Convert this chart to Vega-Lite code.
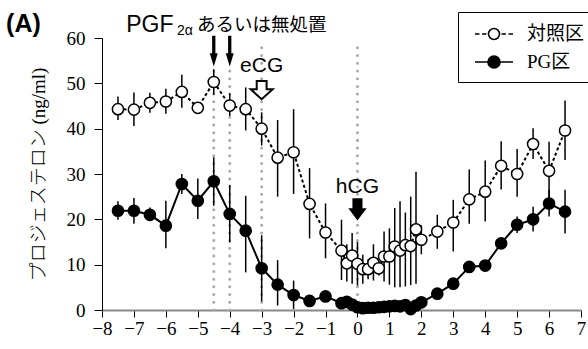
{
  "$schema": "https://vega.github.io/schema/vega-lite/v6.json",
  "width": 479,
  "height": 272,
  "autosize": "none",
  "padding": {"left": 102, "top": 38, "right": 7, "bottom": 39},
  "background": "white",
  "config": {
    "view": {"stroke": null},
    "axis": {
      "grid": false,
      "labelFont": "Liberation Serif",
      "labelFontSize": 19,
      "labelColor": "black",
      "tickColor": "black",
      "domainColor": "black",
      "titleFont": "Liberation Serif, Noto Sans CJK JP",
      "titleFontSize": 19,
      "titleFontWeight": 300,
      "titleColor": "black"
    },
    "axisX": {"domainColor": "#888888", "domainWidth": 2, "tickSize": 7, "labelPadding": 2, "tickCount": 15, "labelFlush": false, "labelOverlap": false},
    "axisY": {"tickSize": 8, "labelPadding": 9, "titlePadding": 18, "tickCount": 6}
  },
  "datasets": {
    "series": [
      {"group": "対照区", "x": -7.5, "y": 44.3, "lo": 41.9, "hi": 47.1},
      {"group": "対照区", "x": -7, "y": 44.2, "lo": 40.6, "hi": 48.0},
      {"group": "対照区", "x": -6.5, "y": 45.7, "lo": 43.5, "hi": 47.9},
      {"group": "対照区", "x": -6, "y": 46.0, "lo": 43.3, "hi": 48.8},
      {"group": "対照区", "x": -5.5, "y": 48.1, "lo": 44.6, "hi": 51.9},
      {"group": "対照区", "x": -5, "y": 44.6, "lo": 44.6, "hi": 44.6},
      {"group": "対照区", "x": -4.5, "y": 50.3, "lo": 47.5, "hi": 53.1},
      {"group": "対照区", "x": -4, "y": 45.1, "lo": 42.8, "hi": 47.8},
      {"group": "対照区", "x": -3.5, "y": 44.3, "lo": 39.6, "hi": 49.1},
      {"group": "対照区", "x": -3, "y": 40.0, "lo": 36.3, "hi": 43.6},
      {"group": "対照区", "x": -2.5, "y": 33.6, "lo": 25.0, "hi": 41.9},
      {"group": "対照区", "x": -2, "y": 34.8, "lo": 25.6, "hi": 44.3},
      {"group": "対照区", "x": -1.5, "y": 23.4, "lo": 15.8, "hi": 31.3},
      {"group": "対照区", "x": -1, "y": 17.1, "lo": 11.4, "hi": 23.5},
      {"group": "対照区", "x": -0.5, "y": 13.1, "lo": 6.6, "hi": 19.9},
      {"group": "対照区", "x": -0.333, "y": 10.3, "lo": 6.3, "hi": 14.5},
      {"group": "対照区", "x": -0.167, "y": 12.0, "lo": 5.8, "hi": 17.0},
      {"group": "対照区", "x": 0, "y": 10.2, "lo": 5.4, "hi": 15.0},
      {"group": "対照区", "x": 0.167, "y": 9.0, "lo": 5.8, "hi": 12.2},
      {"group": "対照区", "x": 0.333, "y": 9.0, "lo": 6.8, "hi": 11.2},
      {"group": "対照区", "x": 0.5, "y": 10.4, "lo": 6.5, "hi": 14.5},
      {"group": "対照区", "x": 0.667, "y": 9.2, "lo": 7.6, "hi": 10.8},
      {"group": "対照区", "x": 0.833, "y": 11.8, "lo": 6.3, "hi": 17.3},
      {"group": "対照区", "x": 1.0, "y": 11.8, "lo": 5.6, "hi": 18.0},
      {"group": "対照区", "x": 1.167, "y": 14.0, "lo": 5.0, "hi": 22.5},
      {"group": "対照区", "x": 1.333, "y": 13.1, "lo": 5.0, "hi": 24.0},
      {"group": "対照区", "x": 1.5, "y": 14.3, "lo": 5.2, "hi": 21.5},
      {"group": "対照区", "x": 1.667, "y": 14.1, "lo": 5.5, "hi": 25.0},
      {"group": "対照区", "x": 1.833, "y": 17.8, "lo": 5.8, "hi": 30.5},
      {"group": "対照区", "x": 2.0, "y": 15.5, "lo": 12.3, "hi": 18.7},
      {"group": "対照区", "x": 2.5, "y": 17.3, "lo": 13.5, "hi": 21.0},
      {"group": "対照区", "x": 3.0, "y": 19.3, "lo": 12.9, "hi": 24.3},
      {"group": "対照区", "x": 3.5, "y": 24.4, "lo": 19.0, "hi": 31.0},
      {"group": "対照区", "x": 4.0, "y": 26.1, "lo": 19.5, "hi": 33.0},
      {"group": "対照区", "x": 4.5, "y": 31.8, "lo": 26.6, "hi": 37.2},
      {"group": "対照区", "x": 5.0, "y": 30.0, "lo": 25.0, "hi": 35.5},
      {"group": "対照区", "x": 5.5, "y": 36.6, "lo": 33.3, "hi": 40.1},
      {"group": "対照区", "x": 6.0, "y": 30.7, "lo": 24.3, "hi": 37.1},
      {"group": "対照区", "x": 6.5, "y": 39.6, "lo": 33.1, "hi": 46.2},
      {"group": "PG区", "x": -7.5, "y": 21.9, "lo": 19.9, "hi": 24.0},
      {"group": "PG区", "x": -7, "y": 21.9, "lo": 19.0, "hi": 24.7},
      {"group": "PG区", "x": -6.5, "y": 21.0, "lo": 19.9, "hi": 22.6},
      {"group": "PG区", "x": -6, "y": 18.6, "lo": 13.6, "hi": 24.1},
      {"group": "PG区", "x": -5.5, "y": 27.8, "lo": 25.6, "hi": 30.0},
      {"group": "PG区", "x": -5, "y": 24.1, "lo": 20.1, "hi": 29.0},
      {"group": "PG区", "x": -4.5, "y": 28.4, "lo": 23.0, "hi": 33.7},
      {"group": "PG区", "x": -4, "y": 21.2, "lo": 14.9, "hi": 27.6},
      {"group": "PG区", "x": -3.5, "y": 17.5, "lo": 8.3, "hi": 25.2},
      {"group": "PG区", "x": -3, "y": 9.2, "lo": 1.9, "hi": 16.5},
      {"group": "PG区", "x": -2.5, "y": 5.6, "lo": 1.0, "hi": 11.0},
      {"group": "PG区", "x": -2, "y": 3.3, "lo": 0.2, "hi": 6.5},
      {"group": "PG区", "x": -1.5, "y": 2.0, "lo": 2.0, "hi": 2.0},
      {"group": "PG区", "x": -1, "y": 3.0, "lo": 3.0, "hi": 3.0},
      {"group": "PG区", "x": -0.5, "y": 1.5, "lo": 1.5, "hi": 1.5},
      {"group": "PG区", "x": -0.333, "y": 1.8, "lo": 1.8, "hi": 1.8},
      {"group": "PG区", "x": -0.167, "y": 1.2, "lo": 1.2, "hi": 1.2},
      {"group": "PG区", "x": 0, "y": 0.6, "lo": 0.6, "hi": 0.6},
      {"group": "PG区", "x": 0.167, "y": 0.4, "lo": 0.4, "hi": 0.4},
      {"group": "PG区", "x": 0.333, "y": 0.5, "lo": 0.5, "hi": 0.5},
      {"group": "PG区", "x": 0.5, "y": 0.5, "lo": 0.5, "hi": 0.5},
      {"group": "PG区", "x": 0.667, "y": 0.6, "lo": 0.6, "hi": 0.6},
      {"group": "PG区", "x": 0.833, "y": 0.7, "lo": 0.7, "hi": 0.7},
      {"group": "PG区", "x": 1.0, "y": 0.8, "lo": 0.8, "hi": 0.8},
      {"group": "PG区", "x": 1.167, "y": 0.9, "lo": 0.9, "hi": 0.9},
      {"group": "PG区", "x": 1.333, "y": 0.8, "lo": 0.8, "hi": 0.8},
      {"group": "PG区", "x": 1.5, "y": 1.1, "lo": 1.1, "hi": 1.1},
      {"group": "PG区", "x": 1.667, "y": 0.2, "lo": 0.2, "hi": 0.2},
      {"group": "PG区", "x": 1.833, "y": 1.0, "lo": 1.0, "hi": 1.0},
      {"group": "PG区", "x": 2.0, "y": 1.7, "lo": 1.7, "hi": 1.7},
      {"group": "PG区", "x": 2.5, "y": 3.6, "lo": 3.6, "hi": 3.6},
      {"group": "PG区", "x": 3.0, "y": 5.8, "lo": 5.8, "hi": 5.8},
      {"group": "PG区", "x": 3.5, "y": 9.5, "lo": 9.5, "hi": 9.5},
      {"group": "PG区", "x": 4.0, "y": 9.8, "lo": 9.8, "hi": 9.8},
      {"group": "PG区", "x": 4.5, "y": 14.7, "lo": 14.7, "hi": 14.7},
      {"group": "PG区", "x": 5.0, "y": 18.8, "lo": 17.0, "hi": 20.6},
      {"group": "PG区", "x": 5.5, "y": 20.0, "lo": 17.3, "hi": 22.8},
      {"group": "PG区", "x": 6.0, "y": 23.5, "lo": 20.6, "hi": 26.5},
      {"group": "PG区", "x": 6.5, "y": 21.7, "lo": 16.9, "hi": 26.5}
    ],
    "vlines": [
      {"x": -4.5, "y": 0, "top": 54},
      {"x": -4, "y": 0, "top": 54},
      {"x": -3, "y": 0, "top": 59},
      {"x": 0, "y": 0, "top": 59}
    ],
    "arrows": [
      {"kind": "pgf", "x": -4.5, "y": 57.1},
      {"kind": "pgf", "x": -4, "y": 57.1},
      {"kind": "ecg", "x": -3, "y": 48.5},
      {"kind": "hcg", "x": 0, "y": 22.2}
    ],
    "notes": [
      {"text": "(A)", "x": -10.46, "y": 61.3},
      {"text": "PGF", "x": -5.761, "y": 61.4},
      {"text": "2α", "x": -5.651, "y": 60.7},
      {"text": "あるいは無処置", "x": -5.025, "y": 61.6},
      {"text": "eCG", "x": -3, "y": 52.5},
      {"text": "hCG", "x": 0, "y": 25.8}
    ]
  },
  "encoding": {
    "x": {"field": "x", "type": "quantitative", "title": null, "scale": {"domain": [-8, 7], "nice": false, "zero": false}},
    "y": {"field": "y", "type": "quantitative", "title": "プロジェステロン (ng/ml)", "scale": {"domain": [0, 60], "nice": false}}
  },
  "layer": [
    {
      "data": {"name": "vlines"},
      "mark": {"type": "rule", "color": "#aaaaaa", "strokeWidth": 3, "strokeDash": [0.01, 7.7], "strokeCap": "round"},
      "encoding": {"y2": {"field": "top"}}
    },
    {
      "data": {"name": "series"},
      "mark": {"type": "rule", "color": "black", "strokeWidth": 1.5},
      "encoding": {
        "y": {"field": "lo", "type": "quantitative", "title": "プロジェステロン (ng/ml)"},
        "y2": {"field": "hi"}
      }
    },
    {
      "data": {"name": "series"},
      "transform": [{"filter": "datum.group === '対照区'"}],
      "mark": {"type": "line", "color": "black", "strokeWidth": 2, "strokeDash": [3, 2.5]},
      "encoding": {}
    },
    {
      "data": {"name": "series"},
      "transform": [{"filter": "datum.group === 'PG区'"}],
      "mark": {"type": "line", "color": "black", "strokeWidth": 2},
      "encoding": {}
    },
    {
      "data": {"name": "series"},
      "mark": {"type": "point", "shape": "circle", "size": 125, "stroke": "black", "strokeWidth": 1.5, "opacity": 1, "fillOpacity": 1},
      "encoding": {
        "fill": {
          "field": "group",
          "type": "nominal",
          "scale": {"domain": ["対照区", "PG区"], "range": ["white", "black"]},
          "legend": {
            "orient": "none",
            "legendX": 356,
            "legendY": -26,
            "title": null,
            "strokeColor": "black",
            "fillColor": "white",
            "padding": 10,
            "labelFont": "Liberation Serif, Noto Sans CJK JP",
            "labelFontSize": 19,
            "labelColor": "black",
            "labelOffset": 21,
            "symbolOffset": 14,
            "rowPadding": 6,
            "symbolSize": 484,
            "symbolStrokeColor": "black",
            "symbolStrokeWidth": 1.5,
            "symbolOpacity": 1,
            "encode": {
              "symbols": {
                "update": {
                  "shape": {"signal": "datum.value === '対照区' ? 'M-1.73 0L-1.32 0M-1.09 0L-0.68 0M0.68 0L1.09 0M1.32 0L1.73 0M0.5 0A0.5 0.5 0 1 1 -0.5 0A0.5 0.5 0 1 1 0.5 0Z' : 'M-1.73 0L1.73 0M0.55 0A0.55 0.55 0 1 1 -0.55 0A0.55 0.55 0 1 1 0.55 0Z'"}
                }
              }
            }
          }
        }
      }
    },
    {
      "data": {"name": "arrows"},
      "transform": [{"filter": "datum.kind === 'pgf'"}],
      "mark": {"type": "point", "shape": "M-0.41 -3.84L0.41 -3.84L0.41 0.51L1 0.51L0 3.84L-1 0.51L-0.41 0.51Z", "size": 64, "fill": "black", "stroke": null, "filled": true, "opacity": 1}
    },
    {
      "data": {"name": "arrows"},
      "transform": [{"filter": "datum.kind === 'ecg'"}],
      "mark": {"type": "point", "shape": "M-0.45 -0.83L0.45 -0.83L0.45 -0.08L1 -0.08L0 0.83L-1 -0.08L-0.45 -0.08Z", "size": 484, "fill": "white", "stroke": "black", "strokeWidth": 2, "opacity": 1, "fillOpacity": 1}
    },
    {
      "data": {"name": "arrows"},
      "transform": [{"filter": "datum.kind === 'hcg'"}],
      "mark": {"type": "point", "shape": "M-0.55 -1.22L0.55 -1.22L0.55 -0.12L1 -0.12L0 1.22L-1 -0.12L-0.55 -0.12Z", "size": 336, "fill": "black", "stroke": null, "filled": true, "opacity": 1}
    },
    {
      "data": {"name": "notes"},
      "transform": [{"filter": "datum.text === 'PGF'"}],
      "mark": {"type": "text", "font": "Liberation Sans", "fontSize": 23, "color": "black", "align": "right", "baseline": "alphabetic"},
      "encoding": {"text": {"field": "text"}}
    },
    {
      "data": {"name": "notes"},
      "transform": [{"filter": "datum.text === 'eCG' || datum.text === 'hCG'"}],
      "mark": {"type": "text", "font": "Liberation Sans", "fontSize": 21, "color": "black", "align": "center", "baseline": "alphabetic"},
      "encoding": {"text": {"field": "text"}}
    },
    {
      "data": {"name": "notes"},
      "transform": [{"filter": "datum.text === '2α'"}],
      "mark": {"type": "text", "font": "Liberation Sans", "fontSize": 14, "color": "black", "align": "left", "baseline": "alphabetic"},
      "encoding": {"text": {"field": "text"}}
    },
    {
      "data": {"name": "notes"},
      "transform": [{"filter": "datum.text === 'あるいは無処置'"}],
      "mark": {"type": "text", "font": "Noto Sans CJK JP", "fontSize": 18.5, "color": "black", "align": "left", "baseline": "alphabetic"},
      "encoding": {"text": {"field": "text"}}
    },
    {
      "data": {"name": "notes"},
      "transform": [{"filter": "datum.text === '(A)'"}],
      "mark": {"type": "text", "font": "Liberation Sans", "fontSize": 25, "fontWeight": "bold", "color": "black", "align": "center", "baseline": "alphabetic"},
      "encoding": {"text": {"field": "text"}}
    }
  ]
}
